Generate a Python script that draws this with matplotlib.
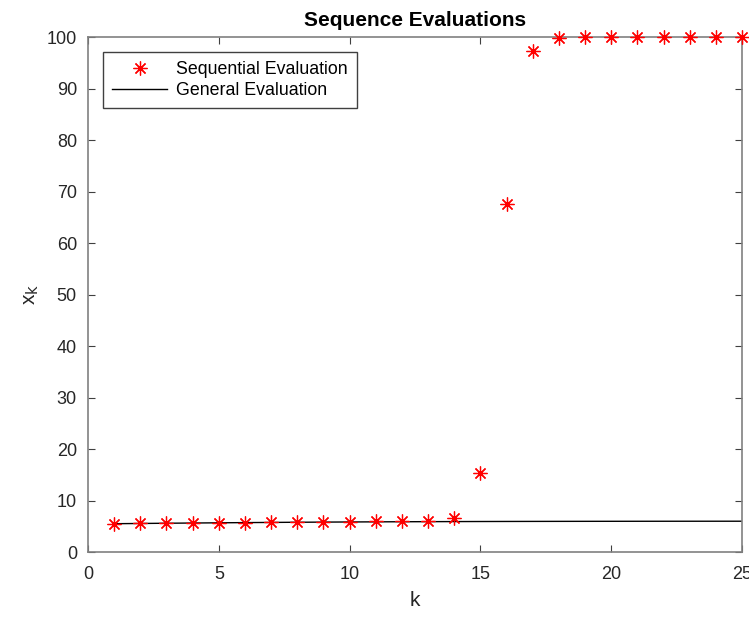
import matplotlib
matplotlib.use("Agg")
import matplotlib.pyplot as plt

plt.rcParams['font.family'] = ['Liberation Sans', 'DejaVu Sans']

k = list(range(1, 26))
sequential = [5.5, 5.5455, 5.5902, 5.6334, 5.6744, 5.7130, 5.7486, 5.7808, 5.8073,
              5.9, 5.95, 5.97, 5.98, 6.6, 15.4, 67.5, 97.2, 99.8, 99.99, 100.0,
              100.0, 100.0, 100.0, 100.0, 100.0]
general = [5.5, 5.5455, 5.5902, 5.6334, 5.6744, 5.7130, 5.7487, 5.7812, 5.8106,
           5.8368, 5.8600, 5.8803, 5.8979, 5.9131, 5.9261, 5.9372, 5.9466, 5.9546,
           5.9613, 5.9669, 5.9716, 5.9756, 5.9789, 5.9816, 5.9839]
xticks = [0, 5, 10, 15, 20, 25]
yticks = list(range(0, 101, 10))

fig = plt.figure(figsize=(7.49, 6.17), dpi=100)
ax = fig.add_axes([0.1175, 0.1053, 0.8732, 0.8347])
ax.plot(k, sequential, linestyle='none', marker=(8, 2, 0), color='red',
        markeredgecolor='red', markeredgewidth=0.9, markersize=10,
        label='Sequential Evaluation', zorder=3, clip_on=False)
ax.plot(k, general, '-', color='black', linewidth=1.0, label='General Evaluation', zorder=2)
ax.set_xlim(0, 25)
ax.set_ylim(0, 100)
ax.set_xticks(xticks)
ax.set_yticks(yticks)
for s in ax.spines.values():
    s.set_color('#808080')
    s.set_linewidth(1.2)
ax.tick_params(direction='in', top=True, right=True, labelsize=13, colors='#404040', length=5)
ax.tick_params(axis='y', pad=8)
ax.tick_params(axis='x', pad=10)
ax.tick_params(axis='both', labelcolor='#262626')
ax.set_xlabel('k', fontsize=15, color='#262626', labelpad=6)
ax.set_ylabel(r'x$_\mathrm{k}$', fontsize=15, color='#262626', labelpad=4)
ax.set_title('Sequence Evaluations', fontsize=15, fontweight='bold', color='black', pad=8)
leg = ax.legend(loc='upper left', fontsize=12.8, fancybox=False, framealpha=1,
                edgecolor='#404040', borderaxespad=0.85, handlelength=3.1,
                labelspacing=0.25, handletextpad=0.5, borderpad=0.5)
leg.get_frame().set_linewidth(1.0)
fig.savefig('out.png', dpi=100)
